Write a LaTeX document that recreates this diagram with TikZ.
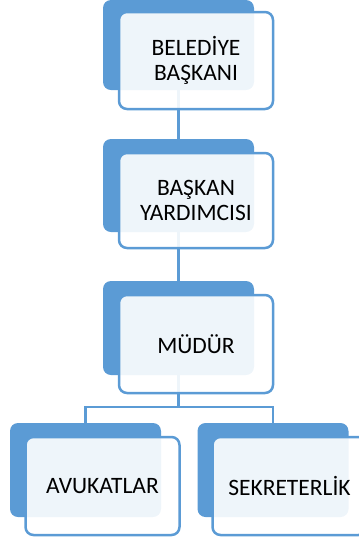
\documentclass[tikz,border=0pt]{standalone}
\usepackage{fontspec}
\setmainfont{Carlito}
\pgfdeclarelayer{background}
\pgfsetlayers{background,main}
\definecolor{accent}{HTML}{5B9BD5}
\begin{document}
\begin{tikzpicture}[x=1pt,y=-1pt,
  backbox/.style={rectangle, fill=accent, rounded corners=8pt, inner sep=0pt,
    minimum width=151pt, minimum height=#1},
  frontbox/.style={rectangle, draw=accent, line width=2.5pt, fill=white, fill opacity=0.9,
    text opacity=1, rounded corners=8pt, inner sep=0pt, minimum width=154pt, minimum height=#1,
    align=center, font=\fontsize{23.5pt}{25pt}\selectfont},
  link/.style={draw=accent, line width=2.3pt}]
\clip (0,0) rectangle (359,542);
\node[backbox=90pt]  (b1) at (178.5,45) {};
\node[frontbox=97pt] (f1) at (196,60.5) {BELEDİYE\\BAŞKANI};
\node[backbox=93pt]  (b2) at (178.5,185.5) {};
\node[frontbox=95pt] (f2) at (196,200.5) {BAŞKAN\\YARDIMCISI};
\node[backbox=94pt]  (b3) at (178.5,328) {};
\node[frontbox=98pt] (f3) at (196,344) {MÜDÜR};
\node[backbox=94pt]  (b4) at (85.5,470) {};
\node[frontbox=98pt] (f4) at (102.5,486) {AVUKATLAR};
\node[backbox=94pt]  (b5) at (273,470) {};
\node[frontbox=98pt] (f5) at (289.5,486) {SEKRETERLİK};
\coordinate (j) at (178.5,407);
\begin{pgfonlayer}{background}
\draw[link] (b1.south) -- (b2.north);
\draw[link] (b2.south) -- (b3.north);
\draw[link] (b3.south) -- (j);
\draw[link] (j) -| (b4.north);
\draw[link] (j) -| (b5.north);
\end{pgfonlayer}
\end{tikzpicture}
\end{document}
